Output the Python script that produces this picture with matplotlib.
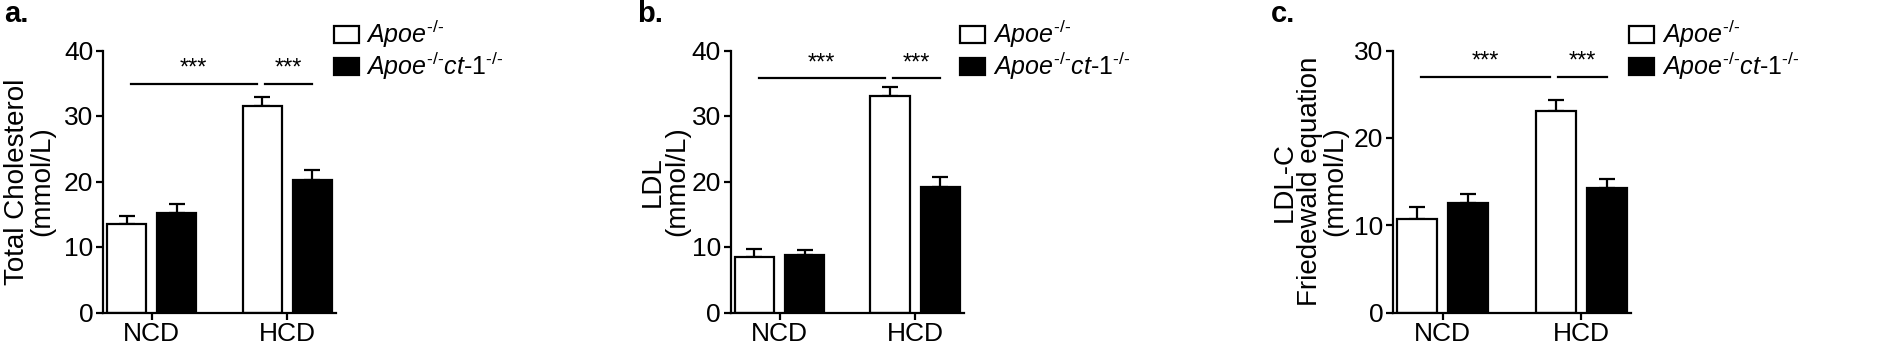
import matplotlib
matplotlib.use("Agg")
import matplotlib.pyplot as plt
from matplotlib.patches import Patch

plt.rcParams['font.family'] = ['Liberation Sans', 'DejaVu Sans']
plt.rcParams['mathtext.fontset'] = 'custom'
plt.rcParams['mathtext.rm'] = 'Liberation Sans'
plt.rcParams['mathtext.it'] = 'Liberation Sans:italic'

# 資料
groups = ['NCD', 'HCD']
tc_apoe = [13.5, 31.6]
tc_apoe_err = [1.2, 1.3]
tc_ct1 = [15.2, 20.2]
tc_ct1_err = [1.3, 1.5]
ldl_apoe = [8.4, 33.0]
ldl_apoe_err = [1.3, 1.4]
ldl_ct1 = [8.8, 19.1]
ldl_ct1_err = [0.8, 1.6]
ldlc_apoe = [10.7, 23.1]
ldlc_apoe_err = [1.4, 1.2]
ldlc_ct1 = [12.5, 14.25]
ldlc_ct1_err = [1.1, 1.05]
sig_y = [34.9, 35.8, 27.0]
ymax = [40, 40, 30]
ylabels = ["Total Cholesterol\n(mmol/L)", "LDL\n(mmol/L)",
           "LDL-C\nFriedewald equation\n(mmol/L)"]
panel_tags = ['a.', 'b.', 'c.']
legend_labels = [r'$\mathit{Apoe}^{\text{-/-}}$',
                 r'$\mathit{Apoe}^{\text{-/-}}\mathit{ct}\text{-}\mathit{1}^{\text{-/-}}$']

W, H = 1895, 349
fig = plt.figure(figsize=(W / 100, H / 100), dpi=100)

# 版面 (像素)
ax_px = [(103, 336), (730.7, 964), (1393, 1631)]
ybot, ytop = 312.5, 50.5
label_x = [-0.207, -0.173, -0.19]
tag_x = [4, 637, 1271]
leg_x = [334, 960, 1629]

data = [(tc_apoe, tc_apoe_err, tc_ct1, tc_ct1_err),
        (ldl_apoe, ldl_apoe_err, ldl_ct1, ldl_ct1_err),
        (ldlc_apoe, ldlc_apoe_err, ldlc_ct1, ldlc_ct1_err)]

bw = 0.29
off = 0.185
lw = 1.6
for i, (wv, we, bv, be) in enumerate(data):
    l, r = ax_px[i]
    ax = fig.add_axes([l / W, 1 - ybot / H, (r - l) / W, (ybot - ytop) / H])
    xs = list(range(len(groups)))
    xw = [x - off for x in xs]
    xb = [x + off for x in xs]
    ax.bar(xw, wv, bw, color='white', edgecolor='black', linewidth=lw, zorder=2)
    ax.bar(xb, bv, bw, color='black', edgecolor='black', linewidth=lw, zorder=2)
    ax.errorbar(xw, wv, yerr=[[0] * len(we), we], fmt='none', ecolor='black',
                elinewidth=lw, capsize=5.5, capthick=lw, zorder=1, clip_on=False)
    ax.errorbar(xb, bv, yerr=[[0] * len(be), be], fmt='none', ecolor='black',
                elinewidth=lw, capsize=5.5, capthick=lw, zorder=1, clip_on=False)
    ax.set_xlim(-0.36, 1.36)
    ax.set_ylim(0, ymax[i])
    ax.set_yticks(range(0, ymax[i] + 1, 10))
    ax.set_xticks(xs)
    ax.set_xticklabels(groups)
    for s in ['top', 'right']:
        ax.spines[s].set_visible(False)
    for s in ['left', 'bottom']:
        ax.spines[s].set_linewidth(lw)
    ax.tick_params(axis='both', labelsize=19, width=lw, length=5, pad=2)
    ax.set_ylabel(ylabels[i], fontsize=20, linespacing=0.95)
    ax.yaxis.set_label_coords(label_x[i], 0.5)

    # 顯著性標記
    y = sig_y[i]
    segs = [(xw[0] + 0.03, xw[1] - 0.04), (xw[1] + 0.02, xb[1])]
    for a, b in segs:
        ax.plot([a, b], [y, y], color='black', linewidth=lw, clip_on=False)
        ax.text((a + b) / 2, y + ymax[i] * 0.015, '***', ha='center', va='bottom',
                fontsize=17, clip_on=False)

    fig.text(tag_x[i] / W, 1 - 22 / H, panel_tags[i], fontsize=21,
             fontweight='bold', ha='left', va='baseline')

    handles = [Patch(facecolor='white', edgecolor='black', linewidth=lw),
               Patch(facecolor='black', edgecolor='black', linewidth=lw)]
    fig.legend(handles, legend_labels, loc='upper left',
               bbox_to_anchor=(leg_x[i] / W, 1 - 18 / H), frameon=False,
               fontsize=18, handlelength=1.0, handleheight=0.7,
               handletextpad=0.3, labelspacing=0.0, borderpad=0,
               borderaxespad=0)

fig.savefig('out.png', dpi=100)
